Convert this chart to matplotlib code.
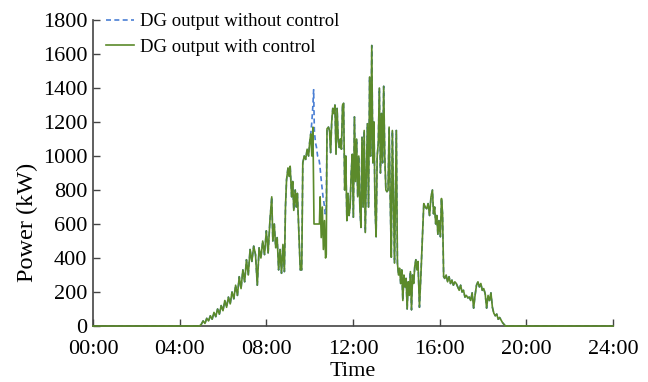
import matplotlib

matplotlib.use("Agg")
import matplotlib.pyplot as plt  # noqa: E402
import numpy as np  # noqa: E402
from matplotlib.ticker import FuncFormatter, MultipleLocator  # noqa: E402

GREEN = "#5B8A2B"
BLUE = "#4A7FD4"

# DG output with control (kW)
ctrl_time = [
    "00:00", "04:55", "05:00", "05:05", "05:10", "05:15", "05:20", "05:25", "05:30",
    "05:35", "05:40", "05:45", "05:50", "05:55", "06:00", "06:05", "06:10", "06:15",
    "06:20", "06:25", "06:30", "06:35", "06:40", "06:45", "06:50", "06:55", "07:00",
    "07:05", "07:10", "07:15", "07:20", "07:25", "07:30", "07:35", "07:40", "07:45",
    "07:50", "07:55", "08:00", "08:05", "08:10", "08:15", "08:18", "08:22", "08:26",
    "08:30", "08:34", "08:38", "08:42", "08:46", "08:50", "08:53", "08:56", "09:00",
    "09:03", "09:06", "09:10", "09:13", "09:16", "09:20", "09:23", "09:26", "09:30",
    "09:34", "09:38", "09:41", "09:45", "09:49", "09:53", "09:57", "10:00", "10:03",
    "10:06", "10:09", "10:12", "10:13", "10:20", "10:27", "10:29", "10:32", "10:35",
    "10:38", "10:41", "10:44", "10:46", "10:48", "10:52", "10:55", "10:58", "11:01",
    "11:04", "11:07", "11:10", "11:13", "11:16", "11:19", "11:22", "11:25", "11:28",
    "11:31", "11:34", "11:37", "11:40", "11:43", "11:46", "11:49", "11:52", "11:55",
    "11:58", "12:01", "12:04", "12:07", "12:10", "12:13", "12:16", "12:19", "12:22",
    "12:25", "12:28", "12:31", "12:34", "12:37", "12:40", "12:43", "12:46", "12:49",
    "12:52", "12:55", "12:58", "13:01", "13:04", "13:07", "13:10", "13:13", "13:16",
    "13:19", "13:22", "13:25", "13:28", "13:31", "13:34", "13:37", "13:40", "13:43",
    "13:46", "13:49", "13:55", "14:00", "14:03", "14:06", "14:09", "14:12", "14:15",
    "14:18", "14:21", "14:24", "14:27", "14:30", "14:33", "14:36", "14:39", "14:42",
    "14:45", "14:48", "14:51", "14:54", "14:57", "15:00", "15:04", "15:08", "15:13",
    "15:16", "15:20", "15:24", "15:28", "15:32", "15:36", "15:40", "15:43", "15:46",
    "15:49", "15:52", "15:55", "15:58", "16:02", "16:05", "16:08", "16:11", "16:14",
    "16:18", "16:22", "16:26", "16:30", "16:34", "16:38", "16:42", "16:46", "16:50",
    "16:54", "16:58", "17:02", "17:06", "17:10", "17:14", "17:18", "17:22", "17:26",
    "17:30", "17:34", "17:38", "17:42", "17:46", "17:50", "17:54", "17:58", "18:02",
    "18:06", "18:10", "18:14", "18:18", "18:22", "18:26", "18:30", "18:34", "18:38",
    "18:42", "18:46", "18:50", "18:54", "18:58", "19:02", "24:00",
]
ctrl_power = [
    0, 0, 10, 30, 15, 45, 30, 60, 40,
    80, 55, 100, 70, 120, 90, 150, 110, 170,
    130, 200, 160, 240, 180, 290, 220, 330, 260,
    390, 300, 450, 380, 470, 420, 240, 460, 400,
    500, 420, 560, 430, 620, 760, 500, 600, 460,
    520, 330, 450, 310, 480, 320, 700, 860, 930,
    880, 940, 760, 850, 680, 800, 700, 780, 560,
    330, 330, 960, 1000, 980, 1040, 1000, 1080, 1130,
    1000, 1170, 600, 600, 600, 600, 760, 520, 700,
    450, 620, 400, 420, 1160, 1170, 1150, 1020, 1200,
    1280, 1250, 1300, 1010, 1280, 1100, 1050, 1100, 1040,
    1300, 1310, 800, 1000, 620, 780, 650, 700, 900,
    1010, 640, 1230, 850, 1100, 760, 1000, 700, 580,
    1110, 700, 1150, 550, 900, 1190, 700, 1465, 1000,
    1650, 960, 1200, 700, 525, 1000, 1075, 1400, 900,
    1250, 960, 1410, 1000, 800, 790, 800, 1170, 760,
    405, 1150, 370, 1150, 370, 300, 340, 250, 330,
    150, 300, 230, 280, 100, 260, 180, 320, 95,
    300, 250, 350, 390, 330, 380, 110, 300, 565,
    720, 700, 690, 720, 650, 760, 800, 660, 700,
    600, 650, 540, 620, 525, 750, 660, 290, 280,
    300, 260, 290, 250, 270, 240, 260, 250, 230,
    210, 240, 200, 210, 170, 180, 165, 170, 150,
    195, 105, 180, 240, 260, 230, 250, 210, 220,
    190, 105, 180, 150, 195, 110, 75, 60, 70,
    40, 50, 35, 20, 10, 0, 0,
]

# DG output without control: differs only between 10:03 and 10:48
free_time = [
    "10:03", "10:06", "10:09", "10:11", "10:13", "10:16", "10:19", "10:22", "10:25",
    "10:28", "10:31", "10:34", "10:37", "10:40", "10:43", "10:46", "10:48",
]
free_power = [
    1130, 1200, 1300, 1390, 1150, 1080, 1050, 1000, 990,
    950, 880, 820, 760, 720, 660, 700, 1160,
]


def to_hours(labels):
    return np.array([int(s[:2]) + int(s[3:]) / 60 for s in labels])


t_ctrl = to_hours(ctrl_time)
p_ctrl = np.array(ctrl_power, dtype=float)
t_seg = to_hours(free_time)
before = t_ctrl < t_seg[0]
after = t_ctrl > t_seg[-1]
t_free = np.concatenate([t_ctrl[before], t_seg, t_ctrl[after]])
p_free = np.concatenate([p_ctrl[before], free_power, p_ctrl[after]])

plt.rcParams["font.family"] = ["Liberation Serif", "DejaVu Serif"]

fig = plt.figure(figsize=(6.48, 3.82), dpi=100)
ax = fig.add_axes([0.1435, 0.1466, 0.8025, 0.801])

ax.plot(t_free, p_free, color=BLUE, lw=1.2, ls=(0, (3, 2)),
        label="DG output without control")
ax.plot(t_ctrl, p_ctrl, color=GREEN, lw=1.2, label="DG output with control",
        clip_on=False, zorder=3)

ax.set_xlim(0, 24)
ax.set_ylim(0, 1800)
ax.xaxis.set_major_locator(MultipleLocator(4))
ax.yaxis.set_major_locator(MultipleLocator(200))
ax.xaxis.set_major_formatter(FuncFormatter(lambda v, _: f"{int(v):02d}:00"))
ax.tick_params(direction="in", length=5, width=1, labelsize=16, color="#444444")
ax.tick_params(axis="x", pad=10)
ax.tick_params(axis="y", pad=4)

for side in ("top", "right"):
    ax.spines[side].set_visible(False)
for side in ("left", "bottom"):
    ax.spines[side].set_color("#444444")
    ax.spines[side].set_linewidth(1.2)

ax.set_xlabel("Time", fontsize=16, labelpad=2)
ax.set_ylabel("Power (kW)", fontsize=17.5, labelpad=6)
ax.yaxis.set_label_coords(-0.105, 0.34)

ax.legend(loc="upper left", bbox_to_anchor=(0.0, 1.065), frameon=False,
          fontsize=13.5, handlelength=1.5, handletextpad=0.3, labelspacing=0.45,
          borderaxespad=0.3)

fig.savefig("out.png", dpi=100)
